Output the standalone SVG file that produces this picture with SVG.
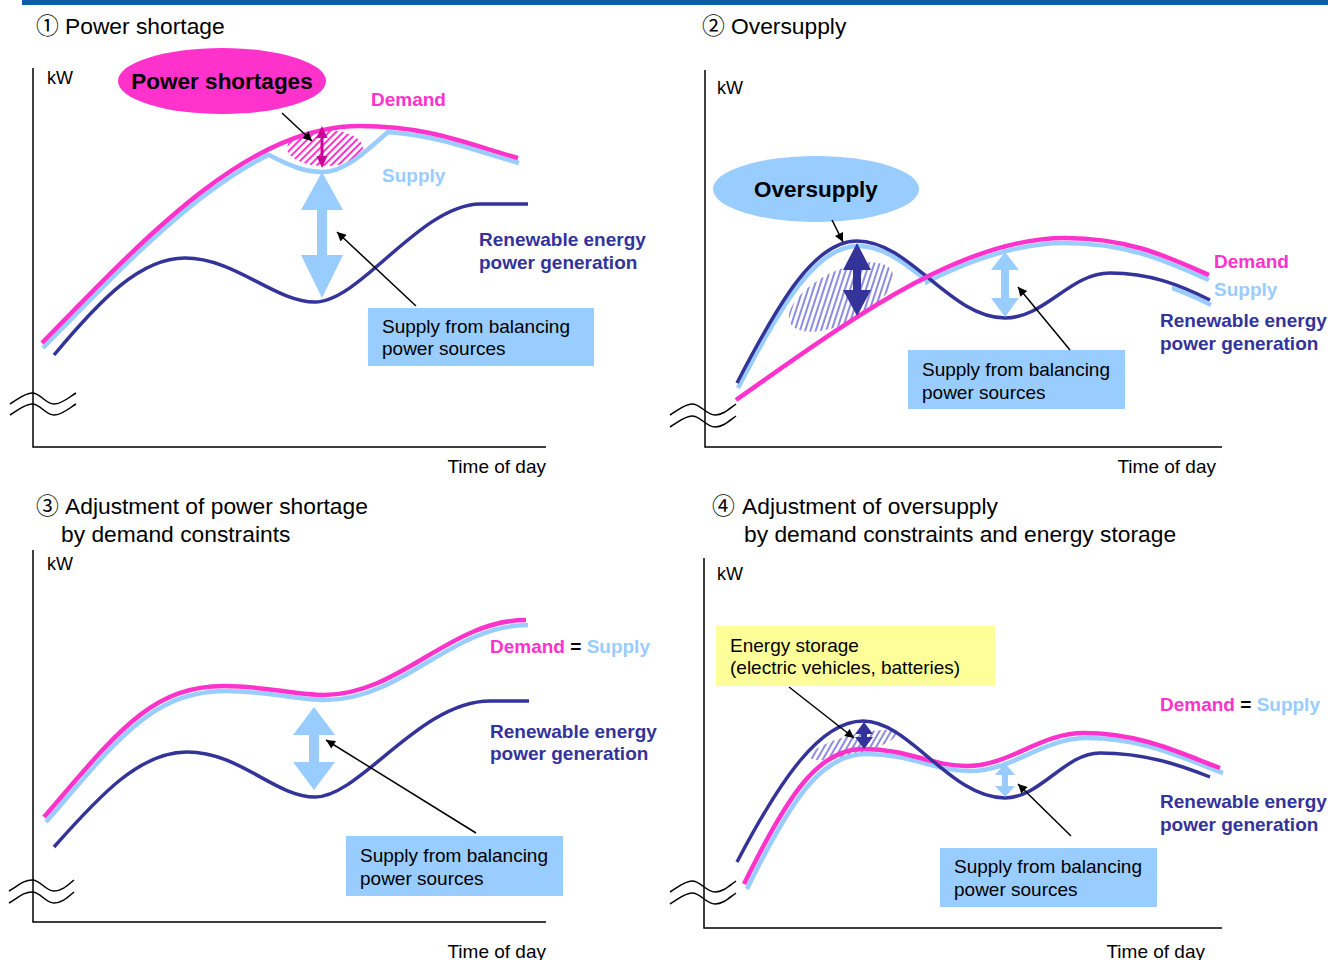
<svg xmlns="http://www.w3.org/2000/svg" width="1328" height="960" viewBox="0 0 1328 960">
<style>
text{font-family:"Liberation Sans",Arial,"Noto Sans CJK JP",sans-serif;}
.title{font-size:22.8px;fill:#000;}
.lbl{font-size:19px;fill:#000;}
.ax{font-size:18px;fill:#000;}
.b{font-weight:bold;font-size:19px;}
.big{font-weight:bold;font-size:22.5px;fill:#000;}
.pk{fill:#ff33cc;}
.lb{fill:#99ccff;}
.db{fill:#333399;}
.axis{stroke:#000;stroke-width:1.5;fill:none;}
.brk{stroke:#000;stroke-width:1.5;fill:none;}
.dem{stroke:#ff33cc;stroke-width:4.5;fill:none;}
.sup{stroke:#99ccff;stroke-width:4.5;fill:none;}
.ren{stroke:#333399;stroke-width:3.5;fill:none;}
.ptr{stroke:#000;stroke-width:1.5;fill:none;marker-end:url(#ah);}
.box{fill:#99ccff;}
</style>
<defs>
<marker id="ah" viewBox="0 0 10 10" refX="10" refY="5" markerWidth="11" markerHeight="9" markerUnits="userSpaceOnUse" orient="auto"><path d="M0,0 L10,5 L0,10 z" fill="#000"/></marker>
<pattern id="hatchP" width="5" height="5" patternUnits="userSpaceOnUse" patternTransform="rotate(45)"><rect width="2" height="5" fill="#ff33cc"/></pattern>
<pattern id="hatchB" width="5" height="5" patternUnits="userSpaceOnUse" patternTransform="rotate(45)"><rect width="2" height="5" fill="#8c8ce0"/></pattern>
<clipPath id="c1"><rect x="0" y="0" width="268" height="480"/><rect x="386" y="0" width="200" height="480"/></clipPath>
<clipPath id="c2a"><rect x="720" y="0" width="208" height="480"/></clipPath>
<clipPath id="c2b"><rect x="925" y="0" width="300" height="480"/></clipPath>
<clipPath id="c2c"><rect x="1172" y="0" width="50" height="480"/></clipPath>
</defs>

<rect id="header" x="22" y="0" width="1306" height="5" fill="#0b5da6"/>

<!-- Panel 1 -->
<g id="panel1">
<text class="title" x="36" y="34">①<tspan x="65">Power shortage</tspan></text>
<path class="axis" d="M33,68 V447 H546"/>
<path class="brk" d="M10,404 C20,398 25,393 32,393 C41,393 45,404 54,404 C62,404 68,398 76,393"/>
<path class="brk" d="M10,415 C20,409 25,404 32,404 C41,404 45,415 54,415 C62,415 68,409 76,404"/>
<text class="ax" x="47" y="84">kW</text>
<text class="lbl" x="546" y="473" text-anchor="end">Time of day</text>
<ellipse cx="325" cy="148" rx="38" ry="18" fill="url(#hatchP)"/>
<g clip-path="url(#c1)"><path class="sup" transform="translate(1,5)" d="M42,343 C150,232 250,126 360,126 C430,126 470,145 518,158"/></g>
<path class="sup" d="M267,154 C290,166 305,172 322,172 C345,172 365,152 388,132"/>
<path class="dem" d="M42,343 C150,232 250,126 360,126 C430,126 470,145 518,158"/>
<path class="ren" d="M54,355 C100,300 140,258 185,258 C235,258 275,302 315,302 C360,302 420,205 480,204 L528,204"/>
<path d="M322,136 V158" stroke="#cc0099" stroke-width="3"/>
<polygon points="322,126 327.5,138 316.5,138" fill="#cc0099"/>
<polygon points="322,168 327.5,156 316.5,156" fill="#cc0099"/>
<polygon points="322,172 343,210 327,210 327,255 343,255 322,298 301,255 317,255 317,210 301,210" fill="#99ccff"/>
<text class="b pk" x="371" y="106">Demand</text>
<text class="b lb" x="382" y="182">Supply</text>
<text class="b db" x="479" y="246">Renewable energy</text>
<text class="b db" x="479" y="269">power generation</text>
</g>
<g id="p1-shortage-label">
<ellipse cx="222" cy="81" rx="104" ry="33" fill="#ff33cc"/>
<text class="big" x="222" y="89" text-anchor="middle">Power shortages</text>
</g>
<g id="p1-balancing">
<rect class="box" x="368" y="308" width="226" height="58"/>
<text class="lbl" x="382" y="333">Supply from balancing</text>
<text class="lbl" x="382" y="355">power sources</text>
</g>

<!-- Panel 2 -->
<g id="panel2">
<text class="title" x="702" y="34">②<tspan x="731">Oversupply</tspan></text>
<path class="axis" d="M705,70 V447 H1222"/>
<path class="brk" d="M670,415 C680,409 685,404 692,404 C701,404 706,415 715,415 C723,415 729,409 736,404"/>
<path class="brk" d="M670,427 C680,421 685,416 692,416 C701,416 706,427 715,427 C723,427 729,421 736,416"/>
<text class="ax" x="717" y="94">kW</text>
<text class="lbl" x="1216" y="473" text-anchor="end">Time of day</text>
<ellipse cx="841" cy="297" rx="57" ry="26" transform="rotate(-27 841 297)" fill="url(#hatchB)"/>
<g clip-path="url(#c2a)"><path class="sup" transform="translate(1,5)" d="M737,383 C780,300 815,241 857,241 C910,241 950,318 1005,318 C1045,318 1070,273 1110,273 C1150,273 1180,285 1210,300"/></g>
<g clip-path="url(#c2b)"><path class="sup" transform="translate(0,5)" d="M736,400 C850,320 960,238 1065,238 C1130,238 1170,258 1209,275"/></g>
<g clip-path="url(#c2c)"><path class="sup" transform="translate(1,5)" d="M737,383 C780,300 815,241 857,241 C910,241 950,318 1005,318 C1045,318 1070,273 1110,273 C1150,273 1180,285 1210,300"/></g>
<path class="ren" d="M737,383 C780,300 815,241 857,241 C910,241 950,318 1005,318 C1045,318 1070,273 1110,273 C1150,273 1180,285 1210,300"/>
<path class="dem" d="M736,400 C850,320 960,238 1065,238 C1130,238 1170,258 1209,275"/>
<polygon points="857,243 871,270 861,270 861,290 871,290 857,316 843,290 853,290 853,270 843,270" fill="#333399"/>
<polygon points="1005,252 1019,270 1009,270 1009,298 1019,298 1005,317 991,298 1001,298 1001,270 991,270" fill="#99ccff"/>
<text class="b pk" x="1214" y="268">Demand</text>
<text class="b lb" x="1214" y="296">Supply</text>
<text class="b db" x="1160" y="327">Renewable energy</text>
<text class="b db" x="1160" y="350">power generation</text>
</g>
<g id="p2-oversupply-label">
<ellipse cx="816" cy="189" rx="103" ry="33" fill="#99ccff"/>
<text class="big" x="816" y="197" text-anchor="middle">Oversupply</text>
</g>
<g id="p2-balancing">
<rect class="box" x="908" y="350" width="217" height="59"/>
<text class="lbl" x="922" y="376">Supply from balancing</text>
<text class="lbl" x="922" y="399">power sources</text>
</g>

<!-- Panel 3 -->
<g id="panel3">
<text class="title" x="36" y="514">③<tspan x="65">Adjustment of power shortage</tspan></text>
<text class="title" x="61" y="542">by demand constraints</text>
<path class="axis" d="M33,550 V922 H546"/>
<path class="brk" d="M9,891 C19,885 24,880 32,880 C41,880 45,891 54,891 C62,891 68,885 74,880"/>
<path class="brk" d="M9,903 C19,897 24,892 32,892 C41,892 45,903 54,903 C62,903 68,897 74,892"/>
<text class="ax" x="47" y="570">kW</text>
<text class="lbl" x="546" y="958" text-anchor="end">Time of day</text>
<path class="sup" transform="translate(2,5)" d="M44,817 C115,735 150,686 224,686 C265,686 295,695 324,695 C400,695 450,620 526,620"/>
<path class="dem" d="M44,817 C115,735 150,686 224,686 C265,686 295,695 324,695 C400,695 450,620 526,620"/>
<path class="ren" d="M54,847 C100,795 140,752 187,752 C240,752 275,797 315,797 C360,797 420,701 490,701 L529,701"/>
<polygon points="314,707 335,735 319,735 319,762 335,762 314,790 293,762 309,762 309,735 293,735" fill="#99ccff"/>
<text class="b" x="490" y="653"><tspan class="pk">Demand</tspan><tspan fill="#000"> = </tspan><tspan class="lb">Supply</tspan></text>
<text class="b db" x="490" y="738">Renewable energy</text>
<text class="b db" x="490" y="760">power generation</text>
</g>
<g id="p3-balancing">
<rect class="box" x="346" y="836" width="217" height="60"/>
<text class="lbl" x="360" y="862">Supply from balancing</text>
<text class="lbl" x="360" y="885">power sources</text>
</g>

<!-- Panel 4 -->
<g id="panel4">
<text class="title" x="712" y="514">④<tspan x="742">Adjustment of oversupply</tspan></text>
<text class="title" x="744" y="542">by demand constraints and energy storage</text>
<path class="axis" d="M704,558 V928 H1222"/>
<path class="brk" d="M670,892 C680,886 685,881 692,881 C701,881 706,892 715,892 C723,892 729,886 736,881"/>
<path class="brk" d="M670,904 C680,898 685,893 692,893 C701,893 706,904 715,904 C723,904 729,898 736,893"/>
<text class="ax" x="717" y="580">kW</text>
<text class="lbl" x="1205" y="958" text-anchor="end">Time of day</text>
<ellipse cx="853" cy="745" rx="45" ry="10" transform="rotate(-15 853 745)" fill="url(#hatchB)"/>
<path class="sup" transform="translate(3,5)" d="M744,884 C790,790 820,749 863,749 C910,749 930,766 967,766 C1010,766 1040,733 1084,733 C1140,733 1180,753 1220,768"/>
<path class="dem" d="M744,884 C790,790 820,749 863,749 C910,749 930,766 967,766 C1010,766 1040,733 1084,733 C1140,733 1180,753 1220,768"/>
<path class="ren" d="M737,862 C780,780 820,721 863,721 C910,721 950,798 1005,798 C1040,798 1065,753 1100,753 C1145,753 1180,765 1210,777"/>
<polygon points="864,722 873,734 867,734 867,737 873,737 864,749 855,737 861,737 861,734 855,734" fill="#333399"/>
<polygon points="1005,763 1015,775 1008,775 1008,786 1015,786 1005,797 995,786 1002,786 1002,775 995,775" fill="#99ccff"/>
<text class="b" x="1160" y="711"><tspan class="pk">Demand</tspan><tspan fill="#000"> = </tspan><tspan class="lb">Supply</tspan></text>
<text class="b db" x="1160" y="808">Renewable energy</text>
<text class="b db" x="1160" y="831">power generation</text>
</g>
<g id="p4-storage">
<rect x="716" y="626" width="279" height="60" fill="#ffff99"/>
<text class="lbl" x="730" y="652">Energy storage</text>
<text class="lbl" x="730" y="674">(electric vehicles, batteries)</text>
</g>
<g id="p4-balancing">
<rect class="box" x="940" y="848" width="217" height="59"/>
<text class="lbl" x="954" y="873">Supply from balancing</text>
<text class="lbl" x="954" y="896">power sources</text>
</g>

<g id="connectors">
<path class="ptr" d="M282,113 L312,141"/>
<path class="ptr" d="M416,306 L337,232"/>
<path class="ptr" d="M832,220 L843,242"/>
<path class="ptr" d="M1070,350 L1018,287"/>
<path class="ptr" d="M476,833 L326,740"/>
<path class="ptr" d="M789,687 L854,738"/>
<path class="ptr" d="M1071,836 L1018,784"/>
</g>
</svg>
